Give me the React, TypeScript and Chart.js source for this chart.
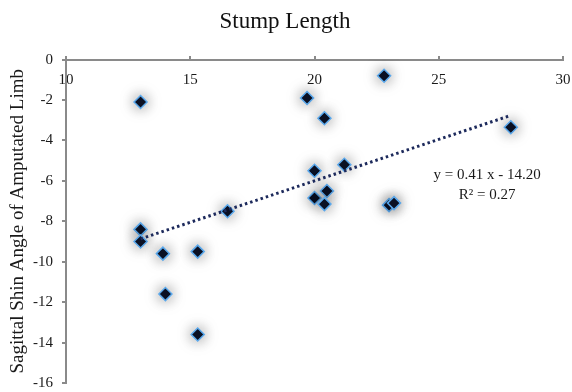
import React, { useEffect, useRef } from "react";
import { Chart, registerables } from "chart.js";

Chart.register(...registerables);

const stumpLength = [13, 13, 13, 13.9, 15.3, 14.0, 15.3, 16.5, 19.7, 20.4, 22.8, 20.0, 21.2, 20.0, 20.5, 20.4, 23.0, 23.2, 27.9];
const shinAngle = [-2.1, -8.4, -9.0, -9.6, -9.5, -11.6, -13.6, -7.5, -1.9, -2.9, -0.8, -5.5, -5.2, -6.85, -6.5, -7.15, -7.2, -7.1, -3.35];
const trendX = [13, 27.9];
const trendY = [-8.87, -2.76];
const equationLines = ["y = 0.41 x - 14.20", "R² = 0.27"];
const equationAnchor = { x: 26.95, y: -5.7 };

const SERIF = '"Liberation Serif", "Times New Roman", serif';

const glowPlugin = {
  id: "glow",
  beforeDatasetDraw(chart: any, args: any) {
    if (args.index !== 0) return;
    const ctx = chart.ctx;
    ctx.save();
    ctx.shadowColor = "rgba(0,0,0,0.5)";
    ctx.shadowBlur = 14;
  },
  afterDatasetDraw(chart: any, args: any) {
    if (args.index !== 0) return;
    chart.ctx.restore();
  },
};

const equationPlugin = {
  id: "equation",
  afterDatasetsDraw(chart: any) {
    const { ctx, scales } = chart;
    const px = scales.x.getPixelForValue(equationAnchor.x);
    const py = scales.y.getPixelForValue(equationAnchor.y);
    ctx.save();
    ctx.font = `15px ${SERIF}`;
    ctx.fillStyle = "#1a1a1a";
    ctx.textAlign = "center";
    ctx.textBaseline = "middle";
    equationLines.forEach((t, i) => ctx.fillText(t, px, py + i * 20));
    ctx.restore();
  },
};

export default function App() {
  const ref = useRef<HTMLCanvasElement>(null);
  useEffect(() => {
    if (!ref.current) return;
    const chart = new Chart(ref.current, {
      type: "scatter",
      data: {
        datasets: [
          {
            type: "scatter",
            label: "Stump",
            data: stumpLength.map((x, i) => ({ x, y: shinAngle[i] })),
            pointStyle: "rectRot",
            pointRadius: 6.5,
            backgroundColor: "#0b1226",
            borderColor: "#5aa8ec",
            borderWidth: 1.5,
            order: 2,
          },
          {
            type: "line",
            label: "Trend",
            data: trendX.map((x, i) => ({ x, y: trendY[i] })),
            borderColor: "#1d2a5c",
            borderWidth: 3,
            borderDash: [2.5, 3],
            pointRadius: 0,
            fill: false,
            order: 1,
          } as any,
        ],
      },
      options: {
        responsive: false,
        animation: false,
        layout: { padding: { left: 7, right: 9, bottom: 9, top: 0 } },
        plugins: {
          legend: { display: false },
          tooltip: { enabled: false },
          title: {
            display: true,
            text: "Stump Length",
            color: "#111",
            font: { family: SERIF, size: 23, weight: "normal", lineHeight: 1.2 },
            padding: { top: 8, bottom: 24 },
          },
        },
        scales: {
          x: {
            type: "linear",
            position: { y: 0 } as any,
            min: 10,
            max: 30,
            afterFit(scale: any) {
              scale.height = 0;
              scale.paddingLeft = 0;
              scale.paddingRight = 0;
              scale.paddingTop = 0;
              scale.paddingBottom = 0;
            },
            ticks: {
              stepSize: 5,
              color: "#1a1a1a",
              font: { family: SERIF, size: 15 },
              padding: 16,
            },
            grid: { drawOnChartArea: false, drawTicks: true, tickLength: -5, color: "#8a8a8a", lineWidth: 2 },
            border: { display: true, color: "#8a8a8a", width: 2 },
          },
          y: {
            type: "linear",
            position: "left",
            min: -16,
            max: 0,
            afterFit(scale: any) {
              scale.width = 59;
              scale.paddingTop = 0;
              scale.paddingBottom = 0;
            },
            ticks: {
              stepSize: 2,
              color: "#1a1a1a",
              font: { family: SERIF, size: 15 },
              padding: 9,
            },
            grid: { drawOnChartArea: false, drawTicks: true, tickLength: 4, color: "#8a8a8a", lineWidth: 2 },
            border: { display: true, color: "#8a8a8a", width: 2 },
            title: {
              display: true,
              text: "Sagittal Shin Angle of Amputated Limb",
              color: "#1a1a1a",
              font: { family: SERIF, size: 19, lineHeight: 1.2 },
              padding: { top: 0, bottom: 2 },
            },
          },
        },
      },
      plugins: [glowPlugin, equationPlugin],
    });
    return () => chart.destroy();
  }, []);
  return (
    <div style={{ position: "absolute", left: 0, top: 0, width: 572, height: 392, background: "#fff" }}>
      <canvas ref={ref} width={572} height={392} style={{ display: "block" }} />
    </div>
  );
}
